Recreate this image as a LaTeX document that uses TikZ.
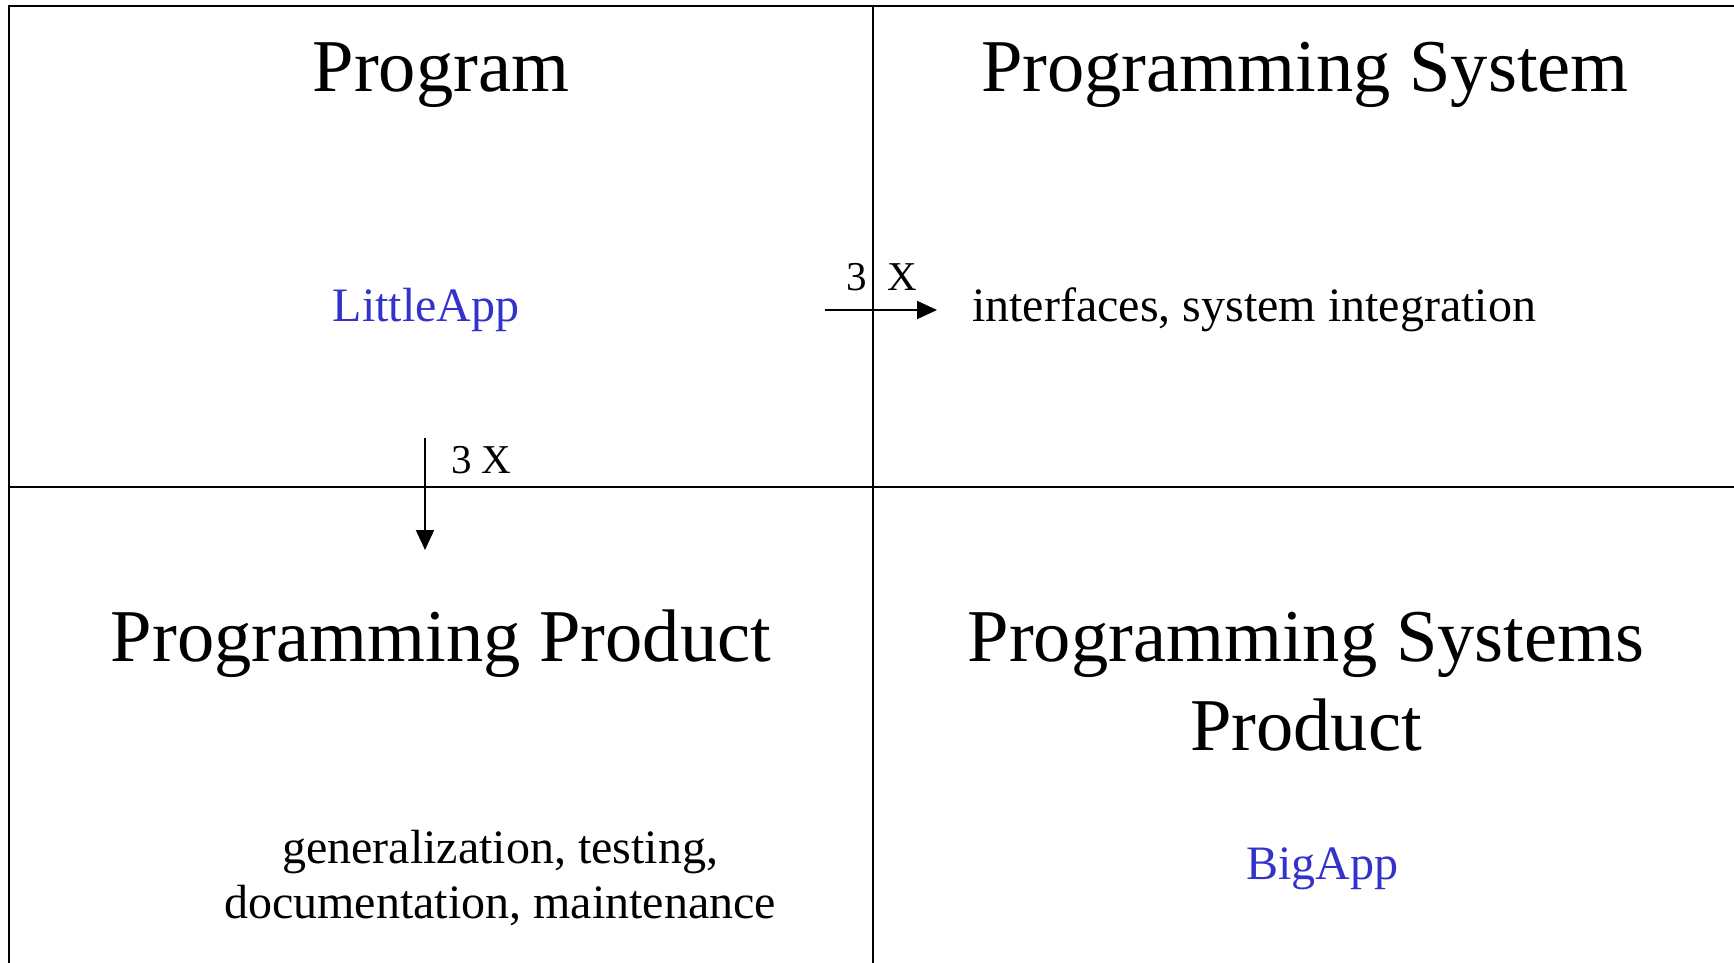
\documentclass[tikz,border=0pt]{standalone}
\usepackage{fontspec}
\setmainfont{Liberation Serif}
\usetikzlibrary{arrows.meta}
\definecolor{appblue}{RGB}{51,51,204}
\tikzset{
  frameline/.style={line width=2pt, black},
  title/.style={anchor=base, inner sep=0pt, font=\fontsize{74.5}{89}\selectfont, align=center},
  body/.style={anchor=base, inner sep=0pt, font=\fontsize{48}{55}\selectfont, align=center},
  app/.style={body, text=appblue},
  factor/.style={anchor=base, inner sep=0pt, font=\fontsize{41}{48}\selectfont},
  growarrow/.style={line width=2pt, -{Triangle[length=20pt,width=18pt]}}
}
\begin{document}
\begin{tikzpicture}[x=1pt,y=-1pt]
\useasboundingbox (0,0) rectangle (1734,963);
% frame
\coordinate (tl) at (9,6);
\coordinate (tr) at (1734,6);
\coordinate (bl) at (9,963);
\coordinate (tm) at (873,6);
\coordinate (bm) at (873,963);
\coordinate (ml) at (9,487);
\coordinate (mr) at (1734,487);
\draw[frameline] (bl) -- (tl) -- (tr);
\draw[frameline] (tm) -- (bm);
\draw[frameline] (ml) -- (mr);
% titles
\node[title] (prog) at (441,92) {Program};
\node[title] (progsys) at (1305,92) {Programming System};
\node[title] (progprod) at (441,661) {Programming Product};
\node[title] (psp) at (1306,750) {Programming Systems\\Product};
% body texts
\node[app] (little) at (426,321) {LittleApp};
\node[body] (iface) at (1254,321) {interfaces, system integration};
\node[body] (gen) at (500,918) {generalization, testing,\\documentation, maintenance};
\node[app] (big) at (1322,879) {BigApp};
% arrows
\coordinate (hs) at (825,310);
\coordinate (he) at (937,310);
\coordinate (vs) at (425,438);
\coordinate (ve) at (425,550);
\draw[growarrow] (hs) -- (he);
\draw[growarrow] (vs) -- (ve);
\node[factor, anchor=base west] (hx) at (846,290) {3\hspace{21pt}X};
\node[factor, anchor=base west] (vx) at (451,473) {3 X};
\end{tikzpicture}
\end{document}
